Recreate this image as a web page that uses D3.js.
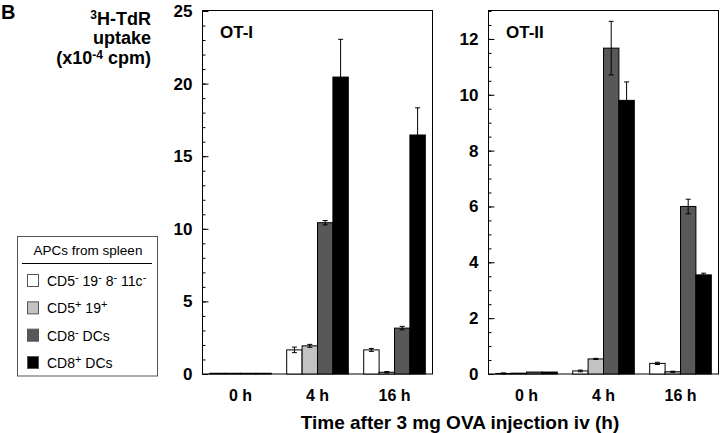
<!DOCTYPE html>
<meta charset="utf-8">
<style>
  body { margin: 0; background: #fff; }
  text { font-family: 'Liberation Sans', Arial, sans-serif; fill: #000; }
  .axis text { font-weight: bold; font-size: 17px; }
  .xaxis text { font-weight: bold; font-size: 16px; }
</style>
<body>
<script src="https://cdn.jsdelivr.net/npm/d3@7"></script>
<script>

// time points and cell types
var groups = ["0 h", "4 h", "16 h"];
var series = ["neg", "pos", "cd8neg", "cd8pos"];
var colors = ["#ffffff", "#c2c2c2", "#585858", "#000000"];

// OT-I, values per series (x10^-4 cpm)
var otI_neg    = [0.05, 1.66, 1.66];
var otI_pos    = [0.05, 1.94, 0.12];
var otI_cd8neg = [0.05, 10.42, 3.16];
var otI_cd8pos = [0.05, 20.45, 16.46];
var otI_neg_err    = [0, 0.19, 0.10];
var otI_pos_err    = [0, 0.10, 0.05];
var otI_cd8neg_err = [0, 0.15, 0.12];
var otI_cd8pos_err = [0, 2.60, 1.87];

// OT-II
var otII_neg    = [0.02, 0.11, 0.38];
var otII_pos    = [0.03, 0.54, 0.08];
var otII_cd8neg = [0.07, 11.67, 6.00];
var otII_cd8pos = [0.07, 9.80, 3.55];
var otII_neg_err    = [0.02, 0.03, 0.04];
var otII_pos_err    = [0, 0.02, 0.02];
var otII_cd8neg_err = [0, 0.96, 0.26];
var otII_cd8pos_err = [0, 0.66, 0.06];

var otI_major = [0, 5, 10, 15, 20, 25];
var otII_major = [0, 2, 4, 6, 8, 10, 12];

var svg = d3.select("body").append("svg")
    .attr("width", 720)
    .attr("height", 433);

function rows(vals, errs) {
  var out = [];
  groups.forEach(function(g, i) {
    series.forEach(function(s, j) {
      out.push({group: g, series: s, value: vals[j][i], err: errs[j][i], color: colors[j]});
    });
  });
  return out;
}

function panel(opts) {
  var x = d3.scaleBand().domain(groups)
      .range([opts.left, opts.right]).paddingInner(0.2).paddingOuter(0.1);
  var xs = d3.scaleBand().domain(series).range([0, x.bandwidth()]);
  var y = d3.scaleLinear().domain([0, opts.max]).range([374, 11]);

  var g = svg.append("g");

  // frame
  g.append("rect")
      .attr("x", opts.left + 0.5).attr("y", y(opts.max) - 0.5)
      .attr("width", opts.right - opts.left - 1)
      .attr("height", y(0) - y(opts.max) + 0.5)
      .attr("fill", "none").attr("stroke", "#000").attr("stroke-width", 1);

  // minor ticks
  g.append("g")
      .attr("transform", "translate(" + (opts.left + 0.5) + ",0)")
      .call(d3.axisLeft(y).tickValues(d3.range(0, opts.max + 0.001, opts.minor))
        .tickSize(-3).tickFormat(""))
      .call(function(a) { a.select(".domain").remove(); });

  // major ticks + labels
  g.append("g")
      .attr("class", "axis")
      .attr("transform", "translate(" + (opts.left + 0.5) + ",0)")
      .call(d3.axisLeft(y).tickValues(opts.major).tickSize(-6).tickPadding(10))
      .call(function(a) { a.select(".domain").remove(); });

  // group labels
  g.append("g")
      .attr("class", "xaxis")
      .attr("transform", "translate(0,374)")
      .call(d3.axisBottom(x).tickSize(0).tickPadding(16))
      .call(function(a) { a.select(".domain").remove(); });

  var data = rows(opts.vals, opts.errs);

  g.selectAll(".bar")
      .data(data)
    .enter().append("rect")
      .attr("class", "bar")
      .attr("x", function(d) { return x(d.group) + xs(d.series); })
      .attr("width", xs.bandwidth())
      .attr("y", function(d) { return y(d.value); })
      .attr("height", function(d) { return y(0) - y(d.value); })
      .attr("fill", function(d) { return d.color; })
      .attr("stroke", "#000")
      .attr("stroke-width", 1);

  var eb = g.selectAll(".err")
      .data(data.filter(function(d) { return d.err > 0; }))
    .enter().append("g").attr("class", "err")
      .attr("stroke", "#000").attr("stroke-width", 1);
  eb.append("line")
      .attr("x1", function(d) { return x(d.group) + xs(d.series) + xs.bandwidth() / 2; })
      .attr("x2", function(d) { return x(d.group) + xs(d.series) + xs.bandwidth() / 2; })
      .attr("y1", function(d) { return y(d.value - d.err); })
      .attr("y2", function(d) { return y(d.value + d.err); });
  [-1, 1].forEach(function(sgn) {
    eb.append("line")
        .attr("x1", function(d) { return x(d.group) + xs(d.series) + xs.bandwidth() / 2 - 2.5; })
        .attr("x2", function(d) { return x(d.group) + xs(d.series) + xs.bandwidth() / 2 + 2.5; })
        .attr("y1", function(d) { return y(d.value + sgn * d.err); })
        .attr("y2", function(d) { return y(d.value + sgn * d.err); });
  });

  g.append("text")
      .attr("x", opts.left + 18).attr("y", 38)
      .style("font-weight", "bold").style("font-size", "17px")
      .text(opts.title);
}

panel({
  left: 202, right: 433, max: 25, minor: 1, major: otI_major, title: "OT-I",
  vals: [otI_neg, otI_pos, otI_cd8neg, otI_cd8pos],
  errs: [otI_neg_err, otI_pos_err, otI_cd8neg_err, otI_cd8pos_err]
});
panel({
  left: 488, right: 719, max: 13, minor: 0.5, major: otII_major, title: "OT-II",
  vals: [otII_neg, otII_pos, otII_cd8neg, otII_cd8pos],
  errs: [otII_neg_err, otII_pos_err, otII_cd8neg_err, otII_cd8pos_err]
});

// panel letter
svg.append("text").attr("x", 1).attr("y", 19)
    .style("font-weight", "bold").style("font-size", "20px").text("B");

// y title
var yt = svg.append("text")
    .attr("text-anchor", "end")
    .style("font-weight", "bold").style("font-size", "18px");
var l1 = yt.append("tspan").attr("x", 151).attr("y", 25);
l1.append("tspan").attr("dy", -6).style("font-size", "12px").text("3");
l1.append("tspan").attr("dy", 6).text("H-TdR");
yt.append("tspan").attr("x", 151).attr("y", 44).text("uptake");
var l3 = yt.append("tspan").attr("x", 151).attr("y", 64);
l3.append("tspan").text("(x10");
l3.append("tspan").attr("dy", -5).style("font-size", "12px").text("-4");
l3.append("tspan").attr("dy", 5).text(" cpm)");

// x title
svg.append("text")
    .attr("x", 460).attr("y", 429)
    .attr("text-anchor", "middle")
    .style("font-weight", "bold").style("font-size", "19px")
    .text("Time after 3 mg OVA injection iv (h)");

// legend
var leg = svg.append("g");
leg.append("rect")
    .attr("x", 17.5).attr("y", 236.5).attr("width", 140).attr("height", 139.5)
    .attr("fill", "none").attr("stroke", "#555").attr("stroke-width", 1);
leg.append("text").attr("x", 88).attr("y", 255)
    .attr("text-anchor", "middle").style("font-size", "13.5px")
    .text("APCs from spleen");
leg.append("line").attr("x1", 22).attr("x2", 152).attr("y1", 263.5).attr("y2", 263.5)
    .attr("stroke", "#000").attr("stroke-width", 1);

var legendLabels = [
  [["CD5", ""], ["-", "s"], [" 19", ""], ["-", "s"], [" 8", ""], ["-", "s"], [" 11c", ""], ["-", "s"]],
  [["CD5", ""], ["+", "s"], [" 19", ""], ["+", "s"]],
  [["CD8", ""], ["-", "s"], [" DCs", ""]],
  [["CD8", ""], ["+", "s"], [" DCs", ""]]
];
var ly = d3.scalePoint().domain(series).range([281, 363]);

series.forEach(function(s, i) {
  var cy = ly(s);
  leg.append("rect")
      .attr("x", 27.5).attr("y", cy - 6.5).attr("width", 11).attr("height", 12)
      .attr("fill", colors[i]).attr("stroke", "#555").attr("stroke-width", 1);
  var t = leg.append("text").attr("x", 47).attr("y", cy + 5).style("font-size", "14px");
  var up = false;
  legendLabels[i].forEach(function(p) {
    var sp = t.append("tspan").text(p[0]);
    if (p[1] === "s" && !up) { sp.attr("dy", -5).style("font-size", "11px"); up = true; }
    else if (p[1] !== "s" && up) { sp.attr("dy", 5); up = false; }
    else if (p[1] === "s") { sp.style("font-size", "11px"); }
  });
});

</script>
</body>
